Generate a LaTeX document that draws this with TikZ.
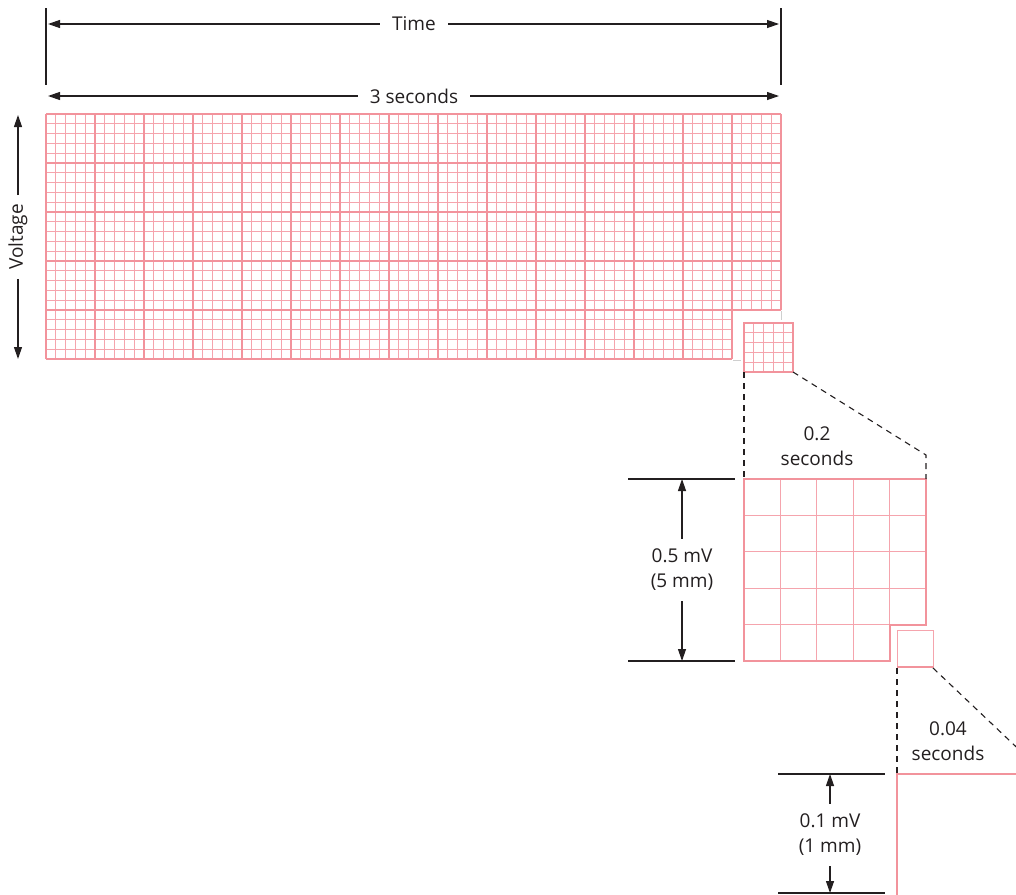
\documentclass[tikz,border=0pt]{standalone}
\usepackage{fontspec}
\setmainfont{Open Sans}
\usetikzlibrary{arrows.meta}
\definecolor{ink}{HTML}{231F20}
\definecolor{gridmaj}{HTML}{F2939C}
\definecolor{gridmin}{HTML}{F5A4AD}
\definecolor{shadow}{HTML}{CFCFCF}
\begin{document}
\begin{tikzpicture}[x=1pt,y=-1pt,
  every node/.style={text=ink,font=\fontsize{19}{25}\selectfont,align=center},
  dim/.style={draw=ink,line width=1.2pt},
  arr/.style={dim,-{Triangle[length=12pt,width=8pt]}},
  zoomdash/.style={draw=ink,line width=1.1pt,dash pattern=on 6pt off 5pt},
  minorl/.style={draw=gridmin,line width=1pt},
  majorl/.style={draw=gridmaj,line width=1.8pt},
  zminor/.style={draw=gridmin,line width=1pt},
  zmajor/.style={draw=gridmaj,line width=1.8pt},
  lbl/.style={fill=none,inner xsep=12pt,inner ysep=4pt}]
\useasboundingbox (0,0) rectangle (1016,894);
\clip (0,0) rectangle (1016,894);

% ---------- main grid ----------
\foreach \i in {0,...,75} \draw[minorl] ({46+\i*9.8},114) -- ({46+\i*9.8},310);
\foreach \i in {0,...,70} \draw[minorl] ({46+\i*9.8},310) -- ({46+\i*9.8},359);
\foreach \j in {0,...,20} \draw[minorl] (46,{114+\j*9.8}) -- (781,{114+\j*9.8});
\foreach \j in {20,...,25} \draw[minorl] (46,{114+\j*9.8}) -- (732,{114+\j*9.8});
\foreach \i in {0,...,15} \draw[majorl] ({46+\i*49},114) -- ({46+\i*49},310);
\foreach \i in {0,...,14} \draw[majorl] ({46+\i*49},310) -- ({46+\i*49},359);
\foreach \j in {0,...,4} \draw[majorl] (46,{114+\j*49}) -- (781,{114+\j*49});
\draw[majorl] (46,359) -- (732,359);
\draw[shadow,line width=1pt] (781,311) -- (781,320);
\draw[shadow,line width=1pt] (733,360) -- (741,360);

% ---------- small square 1 ----------
\foreach \i in {0,...,5} \draw[minorl] ({744+\i*9.8},323) -- ({744+\i*9.8},372);
\foreach \j in {0,...,5} \draw[minorl] (744,{323+\j*9.8}) -- (793,{323+\j*9.8});
\draw[majorl] (744,323) rectangle (793,372);

% ---------- zoomed square 2 ----------
\foreach \i in {1,...,4} \draw[zminor] ({744+\i*36.4},479) -- ({744+\i*36.4},661);
\foreach \j in {1,...,4} \draw[zminor] (744,{479+\j*36.4}) -- (926,{479+\j*36.4});
\draw[zmajor] (744,479) -- (926,479) -- (926,624.6) -- (889.6,624.6) -- (889.6,661) -- (744,661) -- cycle;

% ---------- small square 3 ----------
\draw[zminor] (897,630) rectangle (933,667);
\draw[zmajor] (897,667) -- (933,667);

% ---------- zoomed square 4 ----------
\draw[zmajor] (897,900) -- (897,774) -- (1020,774);

% ---------- dashed zoom lines ----------
\coordinate (s1bl) at (744,372);
\coordinate (s1br) at (793,372);
\coordinate (z2tl) at (744,479);
\coordinate (z2k) at (926,455);
\coordinate (z2tr) at (926,479);
\draw[zoomdash] (s1bl) -- (z2tl);
\draw[zoomdash] (s1br) -- (z2k) -- (z2tr);
\coordinate (s3bl) at (897,668);
\coordinate (s3br) at (933,668);
\coordinate (z4tl) at (897,774);
\coordinate (z4k) at (1030,760);
\draw[zoomdash] (s3bl) -- (z4tl);
\draw[zoomdash] (s3br) -- (z4k);

% ---------- Time / 3 seconds ----------
\coordinate (barLt) at (46,8);
\coordinate (barLb) at (46,85);
\coordinate (barRt) at (781,8);
\coordinate (barRb) at (781,85);
\draw[dim] (barLt) -- (barLb);
\draw[dim] (barRt) -- (barRb);
\node[lbl] (time) at (414,24) {Time};
\coordinate (timeL) at (48,24);
\coordinate (timeR) at (779,24);
\draw[arr] (time.west) -- (timeL);
\draw[arr] (time.east) -- (timeR);
\node[lbl] (three) at (414,96) {3 seconds};
\coordinate (threeL) at (48,96);
\coordinate (threeR) at (779,96);
\draw[arr] (three.west) -- (threeL);
\draw[arr] (three.east) -- (threeR);

% ---------- Voltage ----------
\node[lbl,rotate=90,inner xsep=9pt] (volt) at (18,237) {Voltage};
\coordinate (voltT) at (18,115);
\coordinate (voltB) at (18,359);
\draw[arr] (volt.east) -- (voltT);
\draw[arr] (volt.west) -- (voltB);

% ---------- 0.2 seconds ----------
\node (t02) at (817,446) {0.2\\seconds};

% ---------- 0.5 mV ----------
\coordinate (a1) at (628,479);
\coordinate (a2) at (735,479);
\coordinate (b1) at (628,661);
\coordinate (b2) at (735,661);
\draw[dim] (a1) -- (a2);
\draw[dim] (b1) -- (b2);
\node[inner ysep=10pt] (v5) at (682,570) {0.5 mV\\(5 mm)};
\draw[arr] (v5.north) -- (v5.north |- a1);
\draw[arr] (v5.south) -- (v5.south |- b1);

% ---------- 0.04 seconds ----------
\node (t004) at (948,741) {0.04\\seconds};

% ---------- 0.1 mV ----------
\coordinate (c1) at (778,774);
\coordinate (c2) at (885,774);
\coordinate (d1) at (778,893);
\coordinate (d2) at (885,893);
\draw[dim] (c1) -- (c2);
\draw[dim] (d1) -- (d2);
\node[inner ysep=10pt] (v1) at (830,835) {0.1 mV\\(1 mm)};
\draw[arr] (v1.north) -- (v1.north |- c1);
\draw[arr] (v1.south) -- (v1.south |- d1);
\end{tikzpicture}
\end{document}
